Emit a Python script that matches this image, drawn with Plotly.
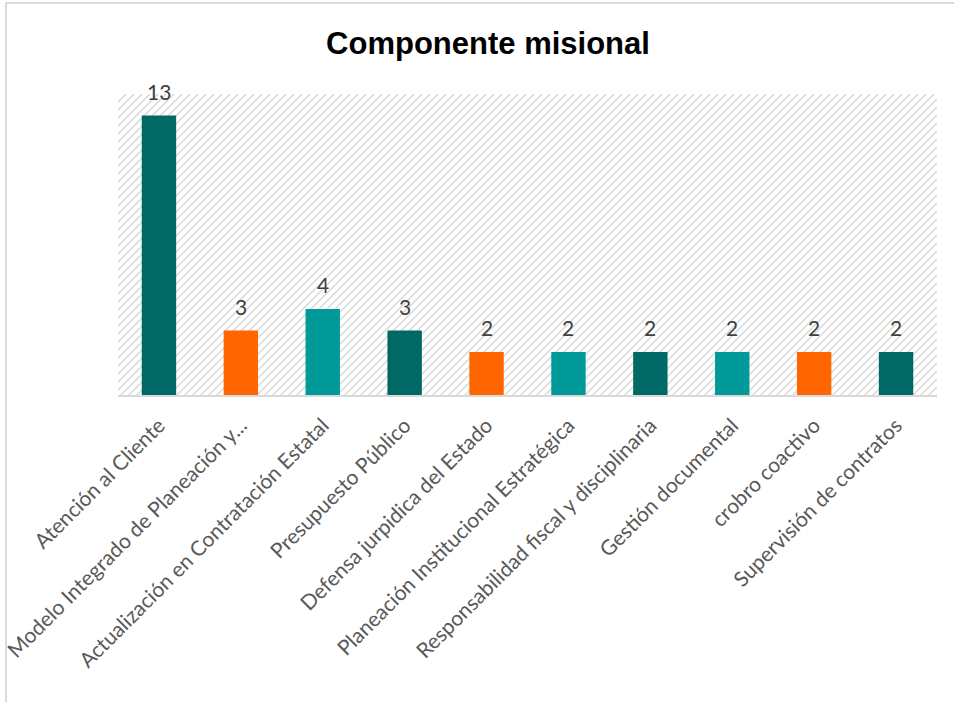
import base64
import plotly.graph_objects as go

categories = [
    "Atención al Cliente",
    "Modelo Integrado de Planeación y...",
    "Actualización en Contratación Estatal",
    "Presupuesto Público",
    "Defensa jurpidica del Estado",
    "Planeación Institucional Estratégica",
    "Responsabilidad fiscal y disciplinaria",
    "Gestión documental",
    "crobro coactivo",
    "Supervisión de contratos",
]
values = [13, 3, 4, 3, 2, 2, 2, 2, 2, 2]
DARK, ORANGE, TEAL = "#006865", "#FF6600", "#009A99"
bar_colors = [DARK, ORANGE, TEAL, DARK, ORANGE, TEAL, DARK, TEAL, ORANGE, DARK]
title_text = "Componente misional"

W, H = 954, 702
ML, MR, MT, MB = 118, 17, 94, 307
PW, PH = W - ML - MR, H - MT - MB

svg = f'''<svg xmlns="http://www.w3.org/2000/svg" width="{PW}" height="{PH}" viewBox="0 0 {PW} {PH}" preserveAspectRatio="none">
<defs><pattern id="p" width="8" height="8" patternUnits="userSpaceOnUse">
<path d="M-2,2 L2,-2 M0,8 L8,0 M6,10 L10,6" stroke="#d8d8d8" stroke-width="1.5"/>
</pattern></defs>
<rect width="{PW}" height="{PH}" fill="url(#p)"/></svg>'''
src = "data:image/svg+xml;base64," + base64.b64encode(svg.encode()).decode()

fig = go.Figure()
fig.add_trace(go.Bar(
    x=categories, y=values, marker=dict(color=bar_colors, line=dict(width=0)),
    width=0.42, hoverinfo="skip",
))

for c, v in zip(categories, values):
    fig.add_annotation(
        x=c, y=v, xref="x", yref="y", text=str(v), showarrow=False,
        yanchor="bottom", yshift=10,
        font=dict(family="Lato", size=21, color="#404040"),
    )

fig.add_layout_image(dict(
    source=src, xref="paper", yref="paper", x=0, y=1, sizex=1, sizey=1,
    xanchor="left", yanchor="top", sizing="stretch", layer="below",
))

# chart border (light gray)
fig.add_shape(type="rect", xref="paper", yref="paper",
              x0=(6 - ML) / PW, x1=(W + 10 - ML) / PW,
              y0=(PH + MT - (H + 10)) / PH, y1=(PH + MT - 3) / PH,
              line=dict(color="#d9d9d9", width=2), fillcolor="rgba(0,0,0,0)", layer="below")

fig.update_layout(
    width=W, height=H,
    margin=dict(l=ML, r=MR, t=MT, b=MB, autoexpand=False),
    paper_bgcolor="white", plot_bgcolor="white",
    showlegend=False,
    title=dict(text=f"<b>{title_text}</b>", x=488 / W, xanchor="center",
               y=1 - 43 / H, yanchor="middle",
               font=dict(family="Liberation Sans", size=31, color="black")),
    xaxis=dict(
        tickangle=-45, showgrid=False, showline=True, linecolor="#d9d9d9", linewidth=2,
        ticks="", tickfont=dict(family="Lato", size=21, color="#595959"),
        ticklabelstandoff=8, automargin=False,
        range=[-0.5, 9.5],
    ),
    yaxis=dict(range=[0, 14], visible=False, showgrid=False, zeroline=False,
               automargin=False),
)

fig.write_html("out.html")
